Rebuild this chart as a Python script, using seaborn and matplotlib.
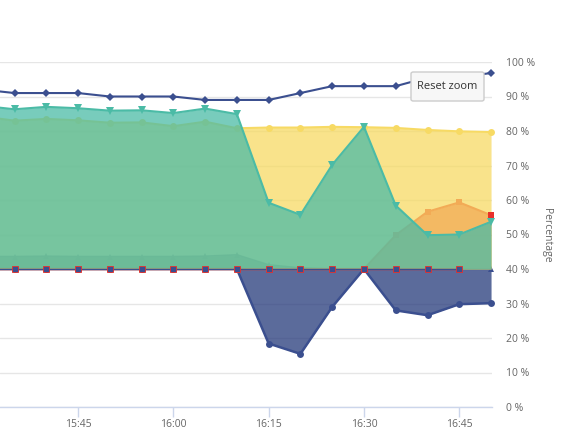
import pandas as pd
import seaborn as sns
import matplotlib.pyplot as plt
import matplotlib.dates as mdates
from matplotlib.patches import FancyBboxPatch

# data (5 minute steps, values in %)
times = ["15:30", "15:35", "15:40", "15:45", "15:50", "15:55", "16:00", "16:05", "16:10",
         "16:15", "16:20", "16:25", "16:30", "16:35", "16:40", "16:45", "16:50"]
top_line = [92, 91, 91, 91, 90, 90, 90, 89, 89, 89, 91, 93, 93, 93, 95.5, 95.6, 96.8]
teal = [87.3, 86.3, 87.0, 86.6, 85.9, 86.0, 85.2, 86.5, 84.9,
        59.2, 55.7, 70.2, 81.2, 58.4, 49.8, 50.0, 53.7]
yellow = [84.2, 83.0, 83.5, 83.1, 82.4, 82.5, 81.4, 82.7, 80.8,
          81.0, 81.0, 81.2, 81.1, 80.9, 80.3, 79.9, 79.7]
orange = [40, 40, 40, 40, 40, 40, 40, 40, 40, 40, 40, 40, 40, 49.8, 56.6, 59.3, 55.6]
band = [43.6, 43.6, 43.7, 43.6, 43.6, 43.6, 43.6, 43.7, 44.1,
        41.2, 40.3, 40, 40, 40, 40, 40, 40]
low = [40, 40, 40, 40, 40, 40, 40, 40, 40, 18.4, 15.4, 29.0, 40, 28.0, 26.6, 29.8, 30.1]
red = [40, 40, 40, 40, 40, 40, 40, 40, 40, 40, 40, 40, 40, 40, 40, 40, 55.7]
threshold = 40
x_ticks = ["15:45", "16:00", "16:15", "16:30", "16:45"]
y_ticks = [0, 10, 20, 30, 40, 50, 60, 70, 80, 90, 100]

NAVY = "#3b4f8f"
NAVY_FILL = "#24397a"
TEAL = "#4bbba6"
YELLOW = "#f7da64"
ORANGE = "#f2ab56"
RED = "#e8302a"

sns.set_style("white")
plt.rcParams["font.family"] = ["Open Sans", "DejaVu Sans"]

def ts(s):
    return pd.to_datetime("2020-01-01 " + pd.Series(s))

t = ts(times)

fig = plt.figure(figsize=(5.65, 4.33), dpi=100)
ax = fig.add_axes([0, 26 / 433, 492 / 565, 345 / 433])

def area(vals, color, fill, marker, ms, z, lw=1.5, alpha=0.75):
    ax.fill_between(t, vals, threshold, color=fill, alpha=alpha, lw=0, zorder=z)
    sns.lineplot(x=t, y=vals, ax=ax, color=color, marker=marker, markersize=ms,
                 markeredgewidth=0, linewidth=lw, zorder=z + 0.5, clip_on=False)

# below-threshold navy series first, so its threshold line sits under the others
area(low, NAVY, NAVY_FILL, "o", 5, 1, lw=1.8)
area(band, NAVY, NAVY_FILL, "^", 5, 2, lw=1.2)
area(yellow, YELLOW, YELLOW, "o", 5, 3)
area(orange, ORANGE, ORANGE, "s", 5, 4)
area(teal, TEAL, TEAL, "v", 5.5, 5)

# red series: line on the threshold, squares on every point
red_s = pd.Series(red)
at_thr = red_s == threshold
sns.lineplot(x=t[at_thr], y=red_s[at_thr], ax=ax, color=RED, linewidth=1, zorder=6)
sns.lineplot(x=t[at_thr], y=red_s[at_thr], ax=ax, color=NAVY, linewidth=0.8, zorder=6.2)
sns.lineplot(x=t[at_thr], y=red_s[at_thr], ax=ax, marker="s", markersize=4.5,
             markerfacecolor=NAVY, markeredgecolor=RED, markeredgewidth=0.6,
             linestyle="none", zorder=6.5)
sns.lineplot(x=t[~at_thr], y=red_s[~at_thr], ax=ax, marker="s", markersize=5,
             color=RED, markeredgewidth=0, linestyle="none", zorder=9, clip_on=False)

sns.lineplot(x=t, y=top_line, ax=ax, color=NAVY, marker="D", markersize=4,
             markeredgewidth=0, linewidth=1.5, zorder=9, clip_on=False)

ax.set_ylim(0, 100)
ax.set_xlim(pd.to_datetime("2020-01-01 15:32:43"), pd.to_datetime("2020-01-01 16:50:09"))
ax.set_yticks(y_ticks)
ax.set_yticklabels([f"{v} %" for v in y_ticks])
ax.yaxis.tick_right()
ax.set_xticks(ts(x_ticks))
ax.xaxis.set_major_formatter(mdates.DateFormatter("%H:%M"))
ax.tick_params(axis="y", length=0, pad=10, labelsize=7.5, labelcolor="#666666")
ax.tick_params(axis="x", length=7, width=1, color="#ccd6eb", pad=1.5,
               labelsize=7.5, labelcolor="#666666", bottom=True)
ax.grid(axis="y", color="#e6e6e6", lw=1, zorder=0)
ax.grid(axis="x", visible=False)
ax.set_axisbelow(True)
for side in ["top", "left", "right"]:
    ax.spines[side].set_visible(False)
ax.spines["bottom"].set_color("#ccd6eb")
ax.spines["bottom"].set_linewidth(1)
ax.set_xlabel("")
ax.set_ylabel("")

fig.text(547 / 565, 1 - 235 / 433, "Percentage", rotation=270, ha="center", va="center",
         fontsize=7.5, color="#666666")

# Reset zoom button
btn = FancyBboxPatch((411 / 565, 1 - 101 / 433), 73 / 565, 29 / 433,
                     boxstyle="round,pad=0,rounding_size=0.004", transform=fig.transFigure,
                     facecolor="#f7f7f7", edgecolor="#cccccc", lw=1, zorder=10)
fig.add_artist(btn)
fig.text(447.5 / 565, 1 - 86.5 / 433, "Reset zoom", ha="center", va="center",
         fontsize=8, color="#333333", zorder=11)

fig.savefig("out.png", dpi=100)
